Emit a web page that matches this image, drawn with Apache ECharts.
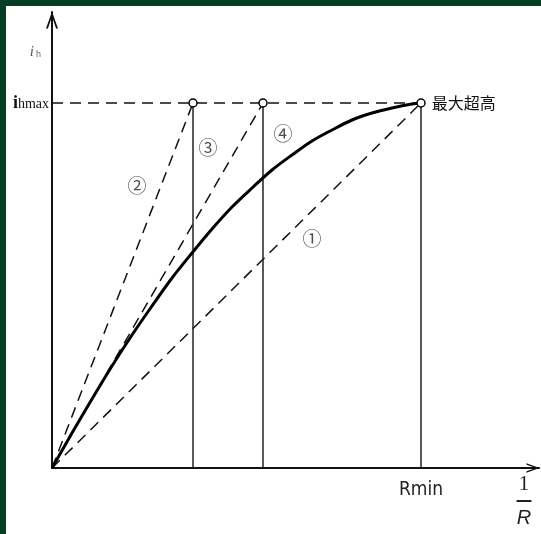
<!DOCTYPE html>
<html><head><meta charset="utf-8">
<script src="https://cdn.jsdelivr.net/npm/echarts@6/dist/echarts.min.js"></script>
<style>
html,body{margin:0;padding:0;background:#fff;}
#c{position:absolute;left:0;top:0;width:541px;height:534px;}
#bt{position:absolute;left:0;top:0;width:541px;height:6px;background:#073c25;z-index:5;}
#bl{position:absolute;left:0;top:0;width:6px;height:534px;background:#073c25;z-index:5;}
</style></head>
<body>
<div id="c"></div><div id="bt"></div><div id="bl"></div>
<script>
// ---- data (axis units) ----
const xAxisMax = 487;
const yAxisMax = 456;
const hMax = 365;            // i_hmax level
const xRmin = 369;           // 1/Rmin
const pointX = [141, 211, 369];     // points reaching i_hmax
const rayX = [369, 141, 211];       // dashed rays ①,②,③ ends (at hMax)
const curveX = [0, 20, 40, 60, 80, 100, 120, 140, 160, 180, 200, 220, 240, 260, 280, 300, 320, 340, 360, 369];
const curveY = [0, 35, 69, 102, 133, 162, 190, 215, 239, 261, 280, 298, 313, 327, 338, 348, 355, 360, 364, 365];
const markNames = ['①', '②', '③', '④'];
const markX = [260, 85, 156, 231];
const markY = [229, 282, 320, 334];
const ihLabelY = 416;        // position of "i_h" axis name
const xNameX = 472;          // position of "1/R" axis name
const endText = '最大超高';

const chart = echarts.init(document.getElementById('c'), null, {renderer: 'canvas'});
const dashed = {color: '#111', width: 1.5, type: [11, 7]};
const series = [];
series.push({
  type: 'line', data: curveX.map((x, i) => [x, curveY[i]]), smooth: 0.3,
  showSymbol: false, lineStyle: {color: '#000', width: 3}, z: 3
});
rayX.forEach(x => series.push({
  type: 'line', data: [[0, 0], [x, hMax]], showSymbol: false, lineStyle: dashed, z: 2
}));
series.push({
  type: 'line', data: [[0, hMax], [xRmin, hMax]], showSymbol: false, lineStyle: dashed, z: 2
});
pointX.forEach(x => series.push({
  type: 'line', data: [[x, 0], [x, hMax]], showSymbol: false,
  lineStyle: {color: '#222', width: 1.5}, z: 2
}));
series.push({
  type: 'scatter', symbol: 'circle', symbolSize: 8, z: 5,
  itemStyle: {color: '#fff', borderColor: '#000', borderWidth: 1.5, opacity: 1},
  data: pointX.map(x => {
    const d = {value: [x, hMax]};
    if (x === xRmin) d.label = {show: true, position: 'right', distance: 6, formatter: endText,
      fontFamily: 'Noto Sans CJK JP', fontSize: 16, color: '#111'};
    return d;
  })
});
series.push({
  type: 'scatter', symbolSize: 0, z: 4,
  data: markNames.map((n, i) => ({value: [markX[i], markY[i]], name: n})),
  label: {show: true, position: 'inside', formatter: p => p.name,
    fontFamily: 'Noto Sans CJK JP', fontSize: 19, color: '#222'}
});

chart.setOption({
  animation: false,
  backgroundColor: '#fff',
  grid: {left: 52, right: 2, top: 12, bottom: 66, containLabel: false},
  xAxis: {
    type: 'value', min: 0, max: xAxisMax,
    axisLine: {show: true, lineStyle: {color: '#111', width: 2},
      symbol: ['none', 'path://M0,14 L5,0 L10,14 L8.4,14 L5,4 L1.6,14 Z'],
      symbolSize: [16, 13], symbolOffset: [0, -6]},
    axisTick: {show: false}, splitLine: {show: false},
    axisLabel: {
      show: true, customValues: [xRmin, xNameX], margin: 5,
      formatter: v => v === xRmin ? '{r|Rmin}' : '{n|1}\n{bar| }\n{R|R}',
      rich: {
        r: {fontFamily: 'Liberation Sans Narrow, DejaVu Sans Condensed, Liberation Sans', fontSize: 19, color: '#222', padding: [8, 0, 0, 0]},
        n: {fontFamily: 'Liberation Serif', fontSize: 21, color: '#222', lineHeight: 22},
        bar: {width: 15, height: 2, backgroundColor: '#222', fontSize: 2, lineHeight: 12},
        R: {fontFamily: 'Liberation Sans', fontStyle: 'italic', fontSize: 20, color: '#222', lineHeight: 22}
      }
    }
  },
  yAxis: {
    type: 'value', min: 0, max: yAxisMax,
    axisLine: {show: true, lineStyle: {color: '#111', width: 2},
      symbol: ['none', 'path://M0,14 L5,0 L10,14 L8.4,14 L5,4 L1.6,14 Z'],
      symbolSize: [12, 17], symbolOffset: [0, -8]},
    axisTick: {show: false}, splitLine: {show: false},
    axisLabel: {
      show: true, customValues: [hMax, ihLabelY], margin: 3,
      formatter: v => v === hMax ? '{i|i}{h|hmax}' : '{a|i}{b|h}',
      rich: {
        i: {fontFamily: 'Liberation Serif', fontSize: 18, fontWeight: 'bold', color: '#111'},
        h: {fontFamily: 'Liberation Serif', fontSize: 14, color: '#111', padding: [3, 0, 0, 0]},
        a: {fontFamily: 'Liberation Serif', fontStyle: 'italic', fontSize: 15, color: '#555'},
        b: {fontFamily: 'Liberation Sans', fontSize: 9, color: '#666', padding: [6, 8, 0, 2]}
      }
    }
  },
  series: series
});
</script>
</body></html>
